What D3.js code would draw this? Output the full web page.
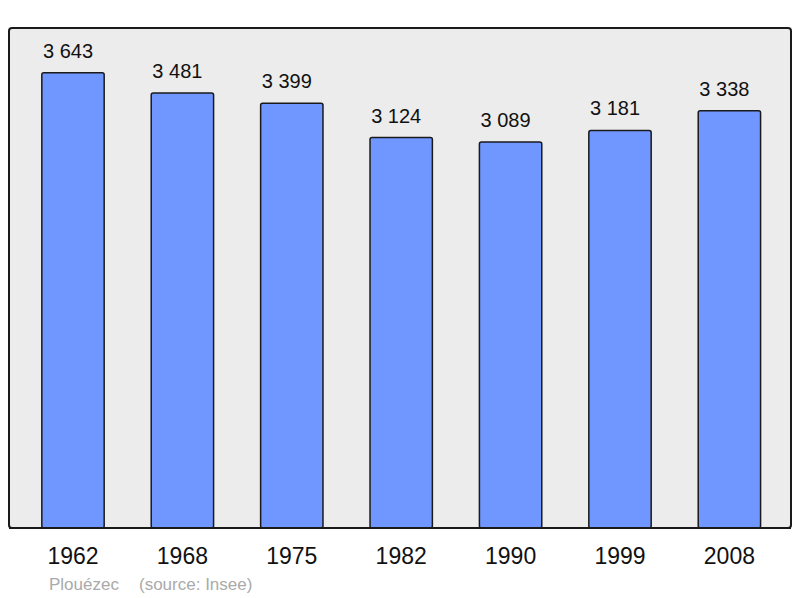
<!DOCTYPE html>
<html><head><meta charset="utf-8">
<script src="https://cdn.jsdelivr.net/npm/d3@7"></script>
<style>html,body{margin:0;padding:0;background:#fff;}svg{display:block;}</style>
</head><body>
<script>
const years = ["1962","1968","1975","1982","1990","1999","2008"];
const population = [3643, 3481, 3399, 3124, 3089, 3181, 3338];
const labels = ["3 643","3 481","3 399","3 124","3 089","3 181","3 338"];
const commune = "Plouézec";
const source = "(source: Insee)";

const W = 800, H = 598;
const svg = d3.select("body").append("svg").attr("width", W).attr("height", H);
const FONT = "Liberation Sans, Arial, sans-serif";

svg.append("rect").attr("x", 9).attr("y", 28).attr("width", 782).attr("height", 500)
  .attr("rx", 3).attr("fill", "#ececec").attr("stroke", "#1a1a1a").attr("stroke-width", 2);

const x = d3.scaleBand().domain(years).range([18.3, 784.1]).paddingInner(0.43).paddingOuter(0.215);
const y = d3.scaleLinear().domain([0, 4000]).range([528, 28]);

const data = years.map((yr, i) => ({yr, v: population[i], lab: labels[i]}));

svg.selectAll("rect.bar").data(data).enter().append("rect").attr("class","bar")
  .attr("x", d => x(d.yr)).attr("y", d => y(d.v))
  .attr("width", x.bandwidth()).attr("height", d => y(0) - y(d.v))
  .attr("rx", 2).attr("fill", "#7096ff").attr("stroke", "#1a1a1a").attr("stroke-width", 1.5);

svg.selectAll("text.val").data(data).enter().append("text").attr("class","val")
  .attr("x", d => x(d.yr) + x.bandwidth()/2 - 5).attr("y", d => y(d.v) - 15)
  .attr("text-anchor", "middle").attr("font-family", FONT)
  .attr("font-size", 20).attr("fill", "#111").text(d => d.lab);

svg.append("line").attr("x1", 9).attr("x2", 791).attr("y1", 528).attr("y2", 528)
  .attr("stroke", "#1a1a1a").attr("stroke-width", 2);

const xAxis = d3.axisBottom(x).tickSize(0).tickPadding(0);
const gx = svg.append("g").attr("transform", "translate(0,564)").call(xAxis);
gx.select(".domain").remove();
gx.selectAll("text").attr("font-family", FONT)
  .attr("font-size", 23).attr("fill", "#111").attr("dy", 0).attr("y", 0);

svg.append("text").attr("x", 49).attr("y", 590).attr("font-family", FONT)
  .attr("font-size", 17).attr("fill", "#aaaaaa").text(commune);
svg.append("text").attr("x", 139).attr("y", 590).attr("font-family", FONT)
  .attr("font-size", 17).attr("fill", "#aaaaaa").text(source);
</script>
</body></html>
